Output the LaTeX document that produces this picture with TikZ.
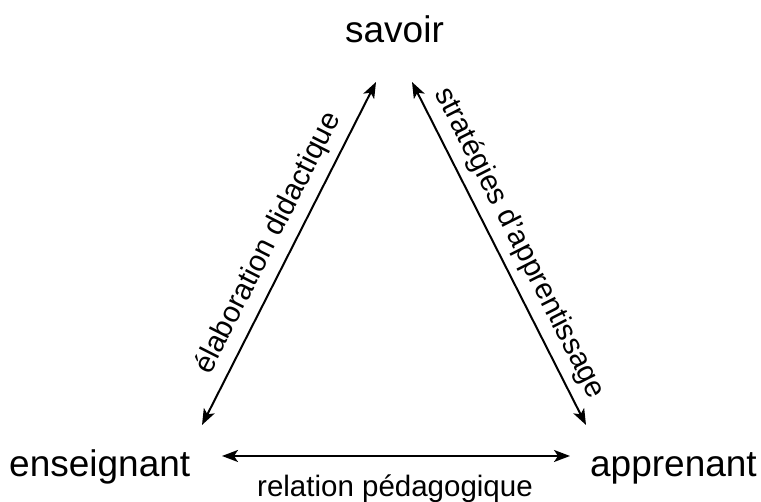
\documentclass[tikz,border=0pt]{standalone}
\usepackage{fontspec}
\setmainfont{Liberation Sans}
\usetikzlibrary{arrows.meta}
\begin{document}
\begin{tikzpicture}[x=1pt,y=1pt,
  pole/.style={inner sep=0pt, font=\fontsize{37}{40}\selectfont},
  rel/.style={inner sep=0pt, font=\fontsize{29.5}{32}\selectfont},
  tip/.style={},
  link/.style={line width=2pt, {Stealth[length=16pt,width=12pt,inset=4pt]}-{Stealth[length=16pt,width=12pt,inset=4pt]}}]
\useasboundingbox (0,0) rectangle (761,502);
\node[pole, anchor=base] (savoir) at (394.5,459) {savoir};
\node[pole, anchor=base west] (enseignant) at (9,25) {enseignant};
\node[pole, anchor=base east] (apprenant) at (757,25) {apprenant};
\coordinate (sL) at (376,420);
\coordinate (sR) at (412,420);
\coordinate (eT) at (202,77);
\coordinate (aT) at (586,77);
\coordinate (eR) at (222,46);
\coordinate (aL) at (570,46);
\draw[link] (eT) -- (sL) node[rel, midway, sloped, yshift=23pt] (lab1) {élaboration didactique};
\draw[link] (sR) -- (aT) node[rel, midway, sloped, yshift=23pt] (lab2) {stratégies d’apprentissage};
\draw[link] (eR) -- (aL);
\node[rel, anchor=base] (lab3) at (395,5) {relation pédagogique};
\end{tikzpicture}
\end{document}
